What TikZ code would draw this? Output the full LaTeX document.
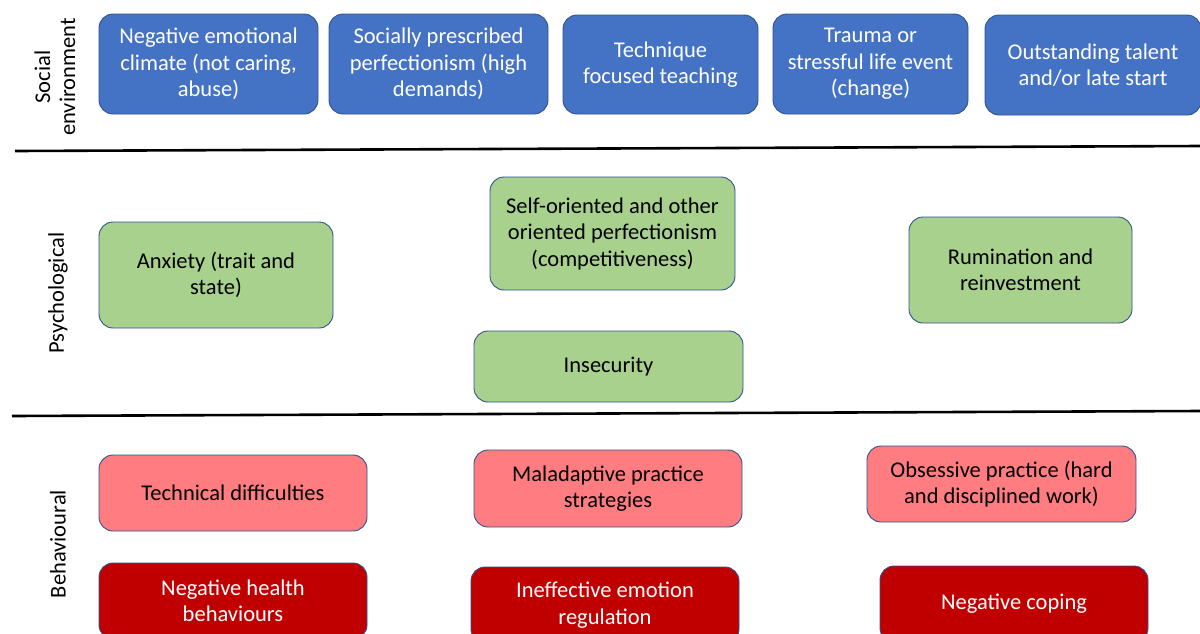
\documentclass[tikz,border=0pt]{standalone}
\usepackage{fontspec}
\setmainfont{Carlito}
\usetikzlibrary{positioning}
\definecolor{socialblue}{HTML}{4472C4}
\definecolor{psychgreen}{HTML}{A9D18E}
\definecolor{behavpink}{HTML}{FF7C80}
\definecolor{behavred}{HTML}{C00000}
\definecolor{outline}{HTML}{2F528F}

\begin{document}
\begin{tikzpicture}[x=1pt,y=-1pt,
	box/.style={draw=outline,line width=0.9pt,rounded corners=14pt,align=center,inner sep=2pt,font=\fontsize{22.5}{26.5}\selectfont},
	social/.style={box,fill=socialblue,text=white},
	psych/.style={box,fill=psychgreen,text=black},
	habit/.style={box,fill=behavpink,text=black},
	harm/.style={box,fill=behavred,text=white},
	layer/.style={rotate=90,align=center,font=\fontsize{22.5}{25}\selectfont},
	divider/.style={line width=2.6pt}]
	\useasboundingbox (0,0) rectangle (1200,633);
	\clip (0,0) rectangle (1200,633);
	
	% social environment
	\node[layer](socialenv) at (55,77){Social\\environment};
	\node[social,minimum width=219pt,minimum height=100pt](climate) at (208.5,64){Negative emotional\\climate (not caring,\\abuse)};
	\node[social,minimum width=219pt,minimum height=100pt](prescribed) at (438.5,64){Socially prescribed\\perfectionism (high\\demands)};
	\node[social,minimum width=195pt,minimum height=99pt](technique) at (660.5,64.5){Technique\\focused teaching};
	\node[social,minimum width=195pt,minimum height=100pt](trauma) at (870.5,64){Trauma or\\stressful life event\\(change)};
	\node[social,minimum width=216pt,minimum height=100pt](talent) at (1093,65){Outstanding talent\\and/or late start};
	
	\coordinate(div1l) at (15,151);
	\coordinate(div1r) at (1200,146);
	\draw[divider] (div1l) -- (div1r);
	
	% psychological
	\node[layer](psychlayer) at (58,293){Psychological};
	\node[psych,minimum width=234pt,minimum height=106pt](anxiety) at (216,275){Anxiety (trait and\\state)};
	\node[psych,minimum width=245pt,minimum height=113pt](perfection) at (612.5,233.5){Self-oriented and other\\oriented perfectionism\\(competitiveness)};
	\node[psych,minimum width=223pt,minimum height=106pt](rumination) at (1020.5,270){Rumination and\\reinvestment};
	\node[psych,minimum width=269pt,minimum height=71pt](insecurity) at (608.5,366.5){Insecurity};
	
	\coordinate(div2l) at (12,416);
	\coordinate(div2r) at (1200,411);
	\draw[divider] (div2l) -- (div2r);
	
	% behavioural
	\node[layer](behavlayer) at (58,544){Behavioural};
	\node[habit,minimum width=268pt,minimum height=76pt](technical) at (233,493){Technical difficulties};
	\node[habit,minimum width=268pt,minimum height=77pt](maladaptive) at (608,488.5){Maladaptive practice\\strategies};
	\node[habit,minimum width=269pt,minimum height=76pt](obsessive) at (1001.5,484){Obsessive practice (hard\\and disciplined work)};
	\node[harm,minimum width=268pt,minimum height=76pt](health) at (233,601){Negative health\\behaviours};
	\node[harm,minimum width=268pt,minimum height=76pt](emotion) at (605,605){Ineffective emotion\\regulation};
	\node[harm,minimum width=268pt,minimum height=76pt](coping) at (1014,604){Negative coping};
\end{tikzpicture}
\end{document}
